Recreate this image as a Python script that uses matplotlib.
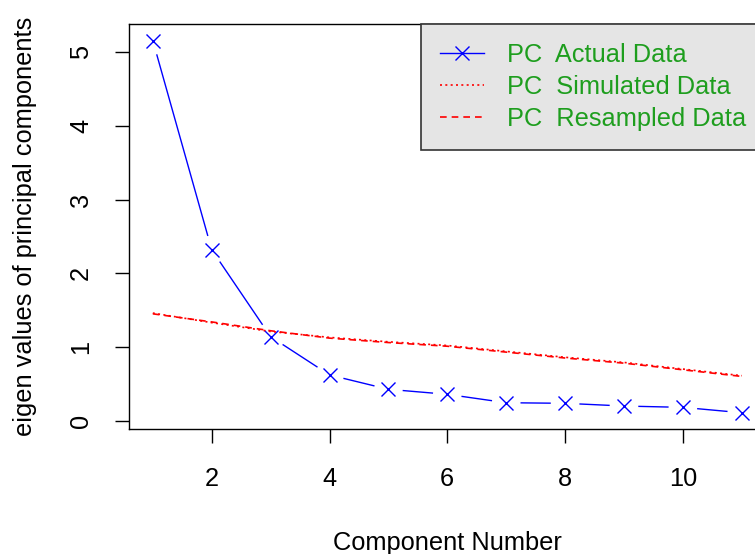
import numpy as np
import matplotlib
matplotlib.use("Agg")
import matplotlib.pyplot as plt

plt.rcParams['font.family'] = ['Liberation Sans', 'DejaVu Sans']

components = np.arange(1, 12)
actual = [5.16, 2.32, 1.14, 0.62, 0.425, 0.357, 0.243, 0.235, 0.198, 0.18, 0.107]
simulated = [1.46, 1.33, 1.21, 1.13, 1.07, 1.02, 0.94, 0.86, 0.79, 0.70, 0.61]
resampled = [1.45, 1.34, 1.22, 1.12, 1.06, 1.01, 0.93, 0.85, 0.78, 0.69, 0.60]

legend_labels = ["PC  Actual Data", "PC  Simulated Data", "PC  Resampled Data"]

fs = 18.3
fig = plt.figure(figsize=(7.55, 5.54), dpi=100)
ax = fig.add_axes([0.1712, 0.2256, 0.8425, 0.731])
ax.set_xlim(0.6, 11.4)
ax.set_ylim(-0.114, 5.384)

# type="b": line segments with gaps around the points
gap = 15
pts = ax.transData.transform(np.column_stack([components, actual]))
inv = ax.transData.inverted()
for p0, p1 in zip(pts[:-1], pts[1:]):
    d = p1 - p0
    L = np.hypot(*d)
    if L <= 2 * gap:
        continue
    u = d / L
    a, b = inv.transform([p0 + u * gap, p1 - u * gap])
    ax.plot([a[0], b[0]], [a[1], b[1]], color='blue', lw=1)
ax.plot(components, actual, linestyle='none', marker='x', color='blue',
        markersize=10, markeredgewidth=1)

ax.plot(components, simulated, color='red', lw=1.2, linestyle=(0, (1.2, 2)))
ax.plot(components, resampled, color='red', lw=1.2, linestyle=(0, (4, 3)))

# legend proxies
h1, = ax.plot([], [], color='blue', lw=1, marker='x', markersize=10, markeredgewidth=1)
h2, = ax.plot([], [], color='red', lw=1.2, linestyle=(0, (1.2, 2)))
h3, = ax.plot([], [], color='red', lw=1.2, linestyle=(0, (4, 3)))
leg = ax.legend([h1, h2, h3], legend_labels, loc='upper right', bbox_to_anchor=(1, 1),
                borderaxespad=0, fancybox=False, edgecolor='#333333', facecolor='#e5e5e5',
                framealpha=1, fontsize=fs, labelcolor='#1e9e1e', handlelength=1.75,
                handletextpad=0.9, labelspacing=0.32, borderpad=0.75)
leg.get_frame().set_linewidth(1.2)

ax.set_xticks([2, 4, 6, 8, 10])
ax.set_yticks([0, 1, 2, 3, 4, 5])
ax.tick_params(labelsize=fs, length=10, width=1, direction='out', colors='black')
ax.tick_params(axis='x', pad=17)
ax.tick_params(axis='y', pad=16)
for lab in ax.get_yticklabels():
    lab.set_rotation(90)
    lab.set_va('center')
for s in ax.spines.values():
    s.set_linewidth(1)
ax.set_xlabel("Component Number", fontsize=fs, labelpad=29)
ax.set_ylabel("eigen values of principal components", fontsize=fs, labelpad=23)

fig.savefig("out.png", dpi=100)
